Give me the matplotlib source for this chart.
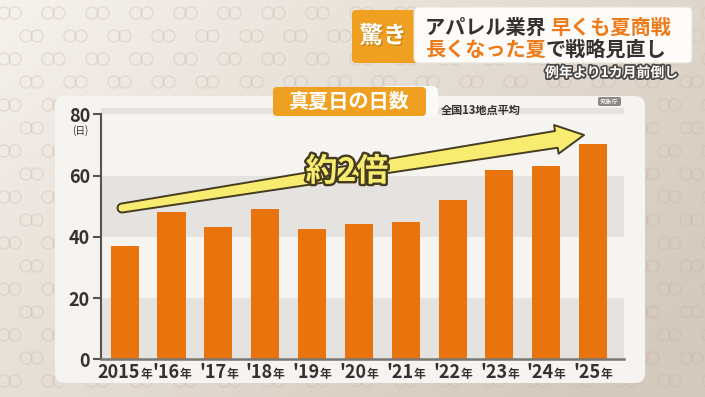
import numpy as np
import matplotlib
matplotlib.use("Agg")
import matplotlib.pyplot as plt
from matplotlib.patches import FancyBboxPatch, Circle, Polygon
from matplotlib.offsetbox import TextArea, HPacker, AnnotationBbox
import matplotlib.patheffects as pe
import matplotlib.colors as mcolors

plt.rcParams['font.family'] = ['Noto Sans CJK JP', 'DejaVu Sans']
FAM = ['Noto Sans CJK JP', 'DejaVu Sans']

# ---- data ----
year_nums = ["2015", "'16", "'17", "'18", "'19", "'20", "'21", "'22", "'23", "'24", "'25"]
year_suffix = "年"
days = [37.0, 48.1, 43.3, 49.1, 42.6, 44.3, 44.7, 52.0, 61.8, 63.1, 70.3]
yticks = [0, 20, 40, 60, 80]

title = "真夏日の日数"
subtitle = "全国13地点平均"
source = "気象庁"
unit = "(日)"
arrow_label = "約2倍"
tag = "驚き"
head1_dark, head1_orange = "アパレル業界 ", "早くも夏商戦"
head2_orange, head2_dark = "長くなった夏", "で戦略見直し"
note = "例年より1カ月前倒し"

W, H = 705, 397
BG = '#e4ddd3'
PANEL = '#f5f4f1'
BAND = '#e5e3df'
BAR = '#e9730c'
GOLD = '#f0a020'
ORANGE_TXT = '#ee7a18'
DARK = '#343230'

fig = plt.figure(figsize=(W / 100, H / 100), dpi=100, facecolor=BG)

# background layer in pixel coordinates
bg = fig.add_axes([0, 0, 1, 1])
bg.set_xlim(0, W)
bg.set_ylim(H, 0)
bg.axis('off')
c0 = np.array(mcolors.to_rgb('#f5f1ec'))
c1 = np.array(mcolors.to_rgb('#d4cabd'))
gx, gy = np.meshgrid(np.linspace(0, 1, 141), np.linspace(0, 1, 80))
tt = np.clip(0.68 * gx + 0.45 * gy, 0, 1)[..., None]
grad = c0 * (1 - tt) + c1 * tt
bg.imshow(grad, extent=(0, W, H, 0), aspect='auto', interpolation='bilinear', zorder=0)
ring = (0.78, 0.66, 0.62, 0.28)
for r, yc in enumerate(np.arange(13, H + 20, 23)):
    off = 0 if r % 2 == 0 else 22
    for xc in np.arange(4 + off, W + 20, 44):
        for dx in (0, 11):
            bg.add_patch(Circle((xc + dx, yc), 6, fc='none', ec=ring, lw=1.0, zorder=1))
# panel
bg.add_patch(FancyBboxPatch((55, 96), 590, 287, boxstyle="round,pad=0,rounding_size=10",
                            fc=PANEL, ec='none', zorder=2))

# main chart axes
y0_px, ytop_px = 359.3, 108.2
ax = fig.add_axes([101 / W, (H - y0_px) / H, (624 - 101) / W, (y0_px - ytop_px) / H])
ax.patch.set_alpha(0)
x = np.arange(len(days))
ax.set_xlim(-0.506, 10.66)
ax.set_ylim(0, 82)
for lo, hi in [(0, 20), (40, 60), (80, 82)]:
    ax.axhspan(lo, hi, color=BAND, lw=0, zorder=0)
ax.bar(x, days, width=0.6, color=BAR, zorder=2)

for s in ['top', 'right']:
    ax.spines[s].set_visible(False)
ax.spines['left'].set_color('#555350')
ax.spines['left'].set_linewidth(1.5)
ax.spines['left'].set_bounds(0, 80)
ax.spines['bottom'].set_color('#7a7875')
ax.spines['bottom'].set_linewidth(1.8)
ax.set_yticks(yticks)
ax.set_yticklabels([str(v) for v in yticks], fontsize=13, fontweight='bold', color=DARK)
ax.tick_params(axis='y', length=6, width=1.5, color='#555350', pad=2)
ax.set_xticks([])

for i, num in enumerate(year_nums):
    t1 = TextArea(num, textprops=dict(fontsize=13, fontweight='bold', color=DARK, family=FAM))
    t2 = TextArea(year_suffix, textprops=dict(fontsize=8.5, fontweight='bold', color=DARK, family=FAM))
    box = HPacker(children=[t1, t2], align='baseline', pad=0, sep=0)
    ab = AnnotationBbox(box, (x[i], 0), xybox=(0, -3), xycoords=('data', 'axes fraction'),
                        boxcoords='offset points', box_alignment=(0.5, 1), frameon=False, pad=0,
                        annotation_clip=False)
    ax.add_artist(ab)

# overlay layer in pixel coordinates
ov = fig.add_axes([0, 0, 1, 1])
ov.set_xlim(0, W)
ov.set_ylim(H, 0)
ov.axis('off')
ov.patch.set_alpha(0)

ov.text(80, 131, unit, fontsize=7, color=DARK, ha='center', va='center')

# title box
ov.add_patch(FancyBboxPatch((380, 86), 58, 31, boxstyle="round,pad=0,rounding_size=6",
                            fc='#fbfaf8', ec='none'))
ov.add_patch(FancyBboxPatch((273, 87), 153, 29, boxstyle="round,pad=0,rounding_size=4",
                            fc=GOLD, ec='none'))
ov.text(349.5, 101.5, title, fontsize=14.5, fontweight='bold', color='white', ha='center', va='center')
ov.text(441, 110, subtitle, fontsize=8, fontweight='bold', color=DARK, ha='left', va='center')
ov.add_patch(FancyBboxPatch((598, 97), 23, 9, boxstyle="round,pad=0,rounding_size=2",
                            fc='#8c8984', ec='none'))
ov.text(609.5, 101.5, source, fontsize=4.5, color='white', ha='center', va='center')

# trend arrow (annotation)
T = np.array([122.0, 208.0])
P = np.array([584.0, 135.0])
d = (P - T) / np.linalg.norm(P - T)
n = np.array([-d[1], d[0]])
L = np.linalg.norm(P - T)
B = T + d * (L - 28)
pts = [B + n * 8.5, B + n * 14.5, P, B - n * 14.5, B - n * 8.5, T - n * 4.5]
ang0 = np.arctan2(-n[1], -n[0])
for a in np.linspace(0, np.pi, 12):
    ang = ang0 - a
    pts.append(T + 4.5 * np.array([np.cos(ang), np.sin(ang)]))
ov.add_patch(Polygon(pts, closed=True, fc='#f7eb70', ec='#463c22', lw=1.4, joinstyle='round'))
ov.text(347, 172, arrow_label, fontsize=23, fontweight='bold', color='#f7eb70', ha='center', va='center',
        path_effects=[pe.Stroke(linewidth=3.5, foreground='#463c22'), pe.Normal()])

# header
ov.add_patch(FancyBboxPatch((352, 10), 70, 53, boxstyle="round,pad=0,rounding_size=4",
                            fc=GOLD, ec='none'))
ov.add_patch(FancyBboxPatch((414, 7), 278, 56, boxstyle="round,pad=0,rounding_size=5",
                            fc='#fdfcfb', ec='#e8e2d8', lw=0.8))
ov.text(383, 36, tag, fontsize=17, fontweight='bold', color='white', ha='center', va='center',
        path_effects=[pe.withSimplePatchShadow(offset=(1, -1), shadow_rgbFace='#b07010', alpha=0.6)])
t = ov.text(425, 27, head1_dark, fontsize=14.5, fontweight='bold', color=DARK, ha='left', va='center')
ov.annotate(head1_orange, xy=(1, 0.5), xycoords=t, fontsize=14.5, fontweight='bold', color=ORANGE_TXT,
            ha='left', va='center')
t2 = ov.text(425, 49, head2_orange, fontsize=14.5, fontweight='bold', color=ORANGE_TXT, ha='left', va='center')
ov.annotate(head2_dark, xy=(1, 0.5), xycoords=t2, fontsize=14.5, fontweight='bold', color=DARK,
            ha='left', va='center')
ov.text(678, 73, note, fontsize=10, fontweight='bold', color='white', ha='right', va='center',
        path_effects=[pe.Stroke(linewidth=2.5, foreground='#4a4744'), pe.Normal()])

fig.savefig('out.png', dpi=100, facecolor=BG)
